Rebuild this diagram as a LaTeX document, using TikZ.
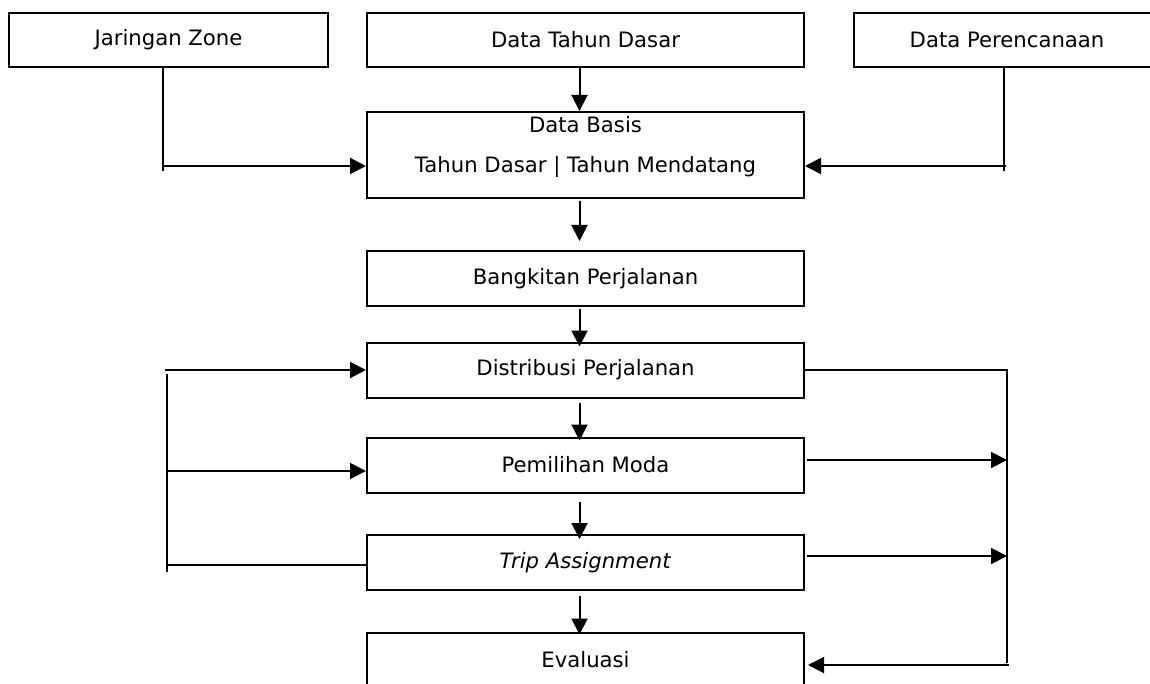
\documentclass[tikz,border=0pt]{standalone}
\usepackage{fontspec}
\setmainfont{DejaVu Sans}
\usetikzlibrary{arrows.meta,positioning}

\begin{document}
\begin{tikzpicture}[node distance=47.5pt, line width=1pt, >={Triangle[length=8pt,width=8pt]},
        every node/.style={draw, font=\fontsize{10.6}{20}\selectfont, align=center, inner sep=0pt, minimum height=27.5pt},
        wide/.style={minimum width=218.5pt}]
        \useasboundingbox (0,0) rectangle (575pt,-342pt);
        % Nodes
        \node (Zone) [rectangle, minimum width=159.5pt, minimum height=27pt] at (84.25pt,-20pt) {Jaringan Zone};
        \node (Tahun) [rectangle, wide, minimum height=27pt] at (292.75pt,-20pt) {Data Tahun Dasar};
        \node (Rencana) [rectangle, minimum width=153pt, minimum height=27pt] at (503.5pt,-20pt) {Data Perencanaan};
        \node (Basis) [rectangle, wide, minimum height=43pt, text depth=10.5pt, below of=Tahun, yshift=-10pt] {Data Basis\\Tahun Dasar | Tahun Mendatang};
        \node (Bangkitan) [rectangle, wide, below of=Basis, yshift=-14.25pt] {Bangkitan Perjalanan};
        \node (Distribusi) [rectangle, wide, below of=Bangkitan, yshift=1.75pt] {Distribusi Perjalanan};
        \node (Moda) [rectangle, wide, below of=Distribusi] {Pemilihan Moda};
        \node (Trip) [rectangle, wide, below of=Moda, yshift=-1.25pt] {\textit{Trip Assignment}};
        \node (Evaluasi) [rectangle, wide, below of=Trip, yshift=-1.25pt] {Evaluasi};

        % Free ends of the feedback lines
        \coordinate (ZoneTurn) at ([xshift=-2.75pt]Zone.south |- 0,-83pt);
        \coordinate (RencanaTurn) at ([xshift=-1.5pt]Rencana.south |- 0,-83pt);
        \coordinate (LeftTop) at (83.5pt,-187pt);
        \coordinate (LeftBot) at (83.5pt,-286pt);
        \coordinate (RightTop) at (503.5pt,-185.5pt);
        \coordinate (RightBot) at (503.5pt,-331.5pt);

        % Arrows
        \draw ([xshift=-2.75pt]Zone.south) -- ([yshift=-2.5pt]ZoneTurn);
        \draw[->] (ZoneTurn) -- (ZoneTurn -| Basis.west);
        \draw ([xshift=-1.5pt]Rencana.south) -- ([yshift=-2.5pt]RencanaTurn);
        \draw[->] ([xshift=1pt]RencanaTurn) -- (RencanaTurn -| Basis.east);
        \draw[->] ([xshift=-3pt]Tahun.south) -- ([xshift=-3pt]Basis.north);
        \draw[->] ([xshift=-3pt,yshift=-1pt]Basis.south) -- ([xshift=-3pt,yshift=4.5pt]Bangkitan.north);
        \draw[->] ([xshift=-3pt,yshift=-1pt]Bangkitan.south) -- ([xshift=-3pt,yshift=-2.5pt]Distribusi.north);
        \draw[->] ([xshift=-3pt,yshift=-2pt]Distribusi.south) -- ([xshift=-3pt,yshift=-2pt]Moda.north);
        \draw[->] ([xshift=-3pt,yshift=-4pt]Moda.south) -- ([xshift=-3pt,yshift=-2.5pt]Trip.north);
        \draw[->] ([xshift=-3pt,yshift=-2.5pt]Trip.south) -- ([xshift=-3pt,yshift=-1.5pt]Evaluasi.north);

        % Feedback
        \draw (LeftTop) -- (LeftBot);
        \draw[->] ([xshift=-1pt]LeftTop |- Distribusi.west) -- (Distribusi.west);
        \draw[->] ([yshift=-3pt]Moda.west -| LeftTop) -- ([yshift=-3pt]Moda.west);
        \draw ([yshift=-1.25pt]Trip.west) -- ([yshift=-1.25pt]Trip.west -| LeftTop);
        \draw (Distribusi.east) -- (Distribusi.east -| RightTop) -- (RightBot);
        \draw[->] ([xshift=1pt,yshift=2.5pt]Moda.east) -- ([yshift=2.5pt]Moda.east -| RightTop);
        \draw[->] ([xshift=1pt,yshift=3.25pt]Trip.east) -- ([yshift=3.25pt]Trip.east -| RightTop);
        \draw[->] ([xshift=1pt,yshift=-2.5pt]Evaluasi.east -| RightTop) -- ([xshift=1.5pt,yshift=-2.5pt]Evaluasi.east);
    \end{tikzpicture}
\end{document}
